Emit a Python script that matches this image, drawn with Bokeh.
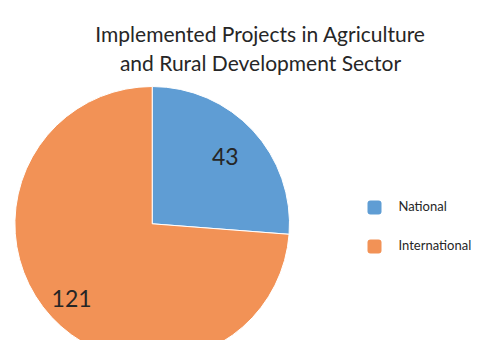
import numpy as np
from bokeh.plotting import figure
from bokeh.models import ColumnDataSource
from bokeh.core.properties import value
from bokeh.embed import file_html
from bokeh.resources import INLINE

# ---- data ----
categories = ["National", "International"]
counts = [43, 121]
colors = ["#5F9DD4", "#F29256"]
title_lines = ["Implemented Projects in Agriculture", "and Rural Development Sector"]
label_radius_factor = [0.725, 0.8]

W, H = 480, 340
p = figure(width=W, height=H, x_range=(0, W), y_range=(0, H),
           output_backend="svg", toolbar_location=None,
           min_border=0, outline_line_color=None)
p.axis.visible = False
p.grid.visible = False
p.background_fill_color = "white"

# pie geometry (layout)
cx, cy, r = 151.7, 116.7, 137.3

vals = np.array(counts, dtype=float)
frac = vals / vals.sum()
cum = np.concatenate([[0], np.cumsum(frac)])
# clockwise from top
ends = np.pi / 2 - 2 * np.pi * cum[:-1]
starts = np.pi / 2 - 2 * np.pi * cum[1:]
mids = (starts + ends) / 2

src = ColumnDataSource(dict(start=starts, end=ends, color=colors, cat=categories))
p.wedge(x=cx, y=cy, radius=r, start_angle="start", end_angle="end",
        fill_color="color", line_color="white", line_width=1, source=src)

lx = cx + np.array(label_radius_factor) * r * np.cos(mids)
ly = cy + np.array(label_radius_factor) * r * np.sin(mids)
p.text(x=lx, y=ly, text=[str(c) for c in counts], text_align="center",
       text_baseline="middle", text_font=value("Lato"), text_font_size="23px",
       text_color="#262626")

# title
p.text(x=[260, 260], y=[306.7, 278.3], text=title_lines, text_align="center",
       text_baseline="alphabetic", text_font=value("Lato"), text_font_size="21px",
       text_color="#262626")

# legend
leg_x = 374.0
leg_y0 = 133.0
leg_dy = 39.0
idx = np.arange(len(categories))
ly_leg = leg_y0 - idx * leg_dy
p.quad(left=leg_x - 7, right=leg_x + 7, top=ly_leg + 7, bottom=ly_leg - 7,
       fill_color=colors, line_color=None, border_radius=3)
p.text(x=leg_x + 24, y=ly_leg + 2, text=categories, text_align="left",
       text_baseline="middle", text_font=value("Lato"), text_font_size="13px",
       text_color="#262626")

open("out.html", "w").write(file_html(p, INLINE))
